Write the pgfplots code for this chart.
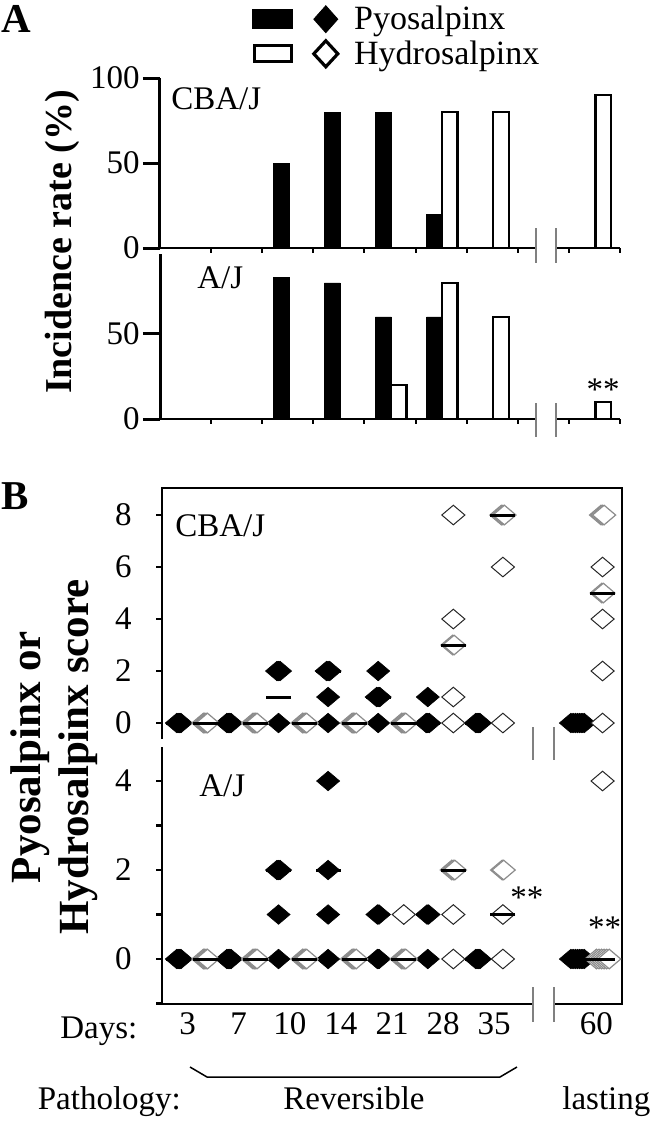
\documentclass[border=0pt]{standalone}
\usepackage{fontspec}
\setmainfont{Liberation Serif}
\usepackage{pgfplots}
\pgfplotsset{compat=1.18}
\newcommand{\fs}{\fontsize{16.5}{18}\selectfont}

\pgfplotsset{
  every axis/.append style={scale only axis, width=230pt, xmin=-0.5, xmax=8.5, clip=false,
    tick align=outside, /pgf/number format/assume math mode=true,
    tick label style={font=\fs}},
  panelA/.style={axis x line*=bottom, axis y line*=left, x axis line style={draw=none},
    y axis line style={line width=1.5pt}, ytick style={line width=1.5pt, black},
    major tick length=8.5pt, xtick=\empty, yticklabel style={inner sep=1.5pt},
    ybar, bar width=0.31, bar shift=0pt},
  panelB/.style={axis line style={draw=none}, xtick=\empty, ytick pos=left,
    major tick length=3pt, ytick style={line width=1.2pt, black},
    yticklabel style={inner sep=0pt, xshift=-12pt}},
  pyo/.style={only marks, mark=diamond*, mark size=4.9pt,
    mark options={xscale=1.57, fill=black, draw=black, line width=0.3pt}},
  hyg/.style={only marks, mark=diamond*, mark size=4.9pt,
    mark options={xscale=1.57, fill=white, draw=black!45, line width=0.6pt}},
  hys/.style={only marks, mark=diamond*, mark size=4.9pt,
    mark options={xscale=1.57, fill=white, draw=black!85, line width=0.5pt}},
  med/.style={only marks, mark=-, mark size=6.25pt, mark options={line width=1.5pt, draw=black}},
}

\begin{document}
\begin{tikzpicture}
\useasboundingbox (0,0) rectangle (325pt,-560.5pt);

% ---------------- Panel A, CBA/J ----------------
\begin{axis}[panelA, at={(80pt,-124pt)}, anchor=south west, height=85pt,
  ymin=0, ymax=100, ytick={0,50,100},
  legend style={draw=none, fill=none, at={(0.2,1.45)}, anchor=north west,
    font=\fontsize{17}{19}\selectfont,
    legend cell align=left, row sep=0pt, inner sep=0pt, nodes={inner sep=2pt}}]
\addplot[forget plot, fill=black, draw=black] coordinates {(1.87,50) (2.87,80) (3.87,80) (4.87,20)};
\addplot[forget plot, fill=white, draw=black, line width=1.3pt] coordinates {(5.17,80) (6.17,80) (8.17,90)};
\addlegendimage{legend image code/.code={
  \fill[black] (0pt,-4.75pt) rectangle (20pt,4.75pt);
  \fill[black] (30.5pt,0pt) -- (36.5pt,6.75pt) -- (42.5pt,0pt) -- (36.5pt,-6.75pt) -- cycle;
  \path (48.5pt,0pt);}}
\addlegendentry{Pyosalpinx}
\addlegendimage{legend image code/.code={
  \draw[line width=1.5pt] (0.75pt,-4pt) rectangle (19.25pt,4pt);
  \draw[line width=1.6pt] (30.5pt,0pt) -- (36.5pt,6.5pt) -- (42.5pt,0pt) -- (36.5pt,-6.5pt) -- cycle;
  \path (48.5pt,0pt);}}
\addlegendentry{Hydrosalpinx}
\draw[line width=1.2pt] (axis cs:-0.5,0) -- (axis cs:6.858,0);
\draw[line width=1.2pt] (axis cs:7.25,0) -- (axis cs:8.5,0);
\pgfplotsinvokeforeach{0.5,1.5,2.5,3.5,4.5,5.5,6.5,7.5,8.5}{\draw[line width=1pt] (axis cs:#1,0) -- ++(0pt,-2.5pt);}
\draw[black!50, line width=0.9pt] (axis cs:6.858,0) ++(0pt,10pt) -- ++(0pt,-17.5pt);
\draw[black!50, line width=0.9pt] (axis cs:7.25,0) ++(0pt,10pt) -- ++(0pt,-17.5pt);
\node[font=\fs, anchor=west, inner sep=0pt] at (axis cs:-0.285,88) {CBA/J};
\end{axis}

% ---------------- Panel A, A/J ----------------
\begin{axis}[panelA, at={(80pt,-209.5pt)}, anchor=south west, height=82.5pt,
  ymin=0, ymax=97, ytick={0,50}]
\addplot[fill=black, draw=black] coordinates {(1.87,83) (2.87,80) (3.87,60) (4.87,60)};
\addplot[fill=white, draw=black, line width=1.3pt] coordinates {(4.17,20) (5.17,80) (6.17,60) (8.17,10)};
\draw[line width=1.2pt] (axis cs:-0.5,0) -- (axis cs:6.858,0);
\draw[line width=1.2pt] (axis cs:7.25,0) -- (axis cs:8.5,0);
\pgfplotsinvokeforeach{0.5,1.5,2.5,3.5,4.5,5.5,6.5,7.5,8.5}{\draw[line width=1pt] (axis cs:#1,0) -- ++(0pt,-2.5pt);}
\draw[black!50, line width=0.9pt] (axis cs:6.858,0) ++(0pt,8pt) -- ++(0pt,-17pt);
\draw[black!50, line width=0.9pt] (axis cs:7.25,0) ++(0pt,8pt) -- ++(0pt,-17pt);
\node[font=\fs, anchor=west, inner sep=0pt] at (axis cs:0.224,83) {A/J};
\node[font=\fs, yshift=-2.6pt] at (axis cs:8.17,20) {**};
\end{axis}

% ---------------- Panel B, CBA/J ----------------
\begin{axis}[panelB, at={(81pt,-369.5pt)}, anchor=south west, height=125.5pt,
  ymin=-0.615, ymax=9.04, ytick={0,2,4,6,8}]
\draw[line width=1.3pt] (rel axis cs:0,0) -- (rel axis cs:0,1) -- (rel axis cs:1,1) -- (rel axis cs:1,0) -- ++(0pt,-4.5pt);
\addplot[pyo] table {
x y
-0.21 0
-0.183 0
-0.157 0
-0.13 0
0.77 0
0.797 0
0.823 0
0.85 0
1.75 2
1.78 2
1.81 2
1.78 0
2.72 2
2.75 2
2.78 2
2.75 1
2.75 0
3.73 2
3.70 1
3.73 1
3.76 1
3.73 0
4.70 1
4.67 0
4.70 0
4.73 0
5.64 0
5.667 0
5.693 0
5.72 0
7.50 0
7.543 0
7.587 0
7.63 0
7.673 0
7.717 0
7.76 0
};
\addplot[hyg] table {
x y
0.31 0
0.337 0
0.363 0
0.39 0
1.28 0
1.307 0
1.333 0
1.36 0
2.25 0
2.277 0
2.303 0
2.33 0
3.22 0
3.247 0
3.273 0
3.30 0
4.19 0
4.217 0
4.243 0
4.27 0
5.185 3
5.215 3
6.14 8
6.17 8
6.20 8
8.09 8
8.12 8
8.15 8
8.105 5
8.135 5
};
\addplot[hys] table {
x y
5.20 8
5.20 4
5.20 1
5.20 0
6.17 6
6.17 0
8.12 6
8.12 4
8.12 2
8.12 0
};
\addplot[med] table {
x y
-0.17 0
0.81 0
1.78 1
2.75 2
3.73 1
4.70 0
5.68 0
7.63 0
0.35 0
1.32 0
2.29 0
3.26 0
4.23 0
5.20 3
6.17 8
8.12 5
};
\draw[black!50, line width=0.9pt] (axis cs:6.76,-0.615) ++(0pt,6pt) -- ++(0pt,-16.5pt);
\draw[black!50, line width=0.9pt] (axis cs:7.17,-0.615) ++(0pt,6pt) -- ++(0pt,-16.5pt);
\node[font=\fs, anchor=west, inner sep=0pt] at (axis cs:-0.246,7.6) {CBA/J};
\end{axis}

% ---------------- Panel B, A/J ----------------
\begin{axis}[panelB, at={(81pt,-502pt)}, anchor=south west, height=128.5pt,
  ymin=-1.011, ymax=4.764, ytick={-1,0,1,2,3,4}, yticklabels={,0,,2,,4},
  xtick={0,1,2,3,4,5,6,8}, xticklabels={3,7,10,14,21,28,35,60},
  x tick style={draw=none}, xticklabel style={anchor=base, yshift=-12pt}]
\draw[line width=1.3pt] (rel axis cs:0,1) -- (rel axis cs:0,0) -- (axis cs:6.76,-1.011);
\draw[line width=1.3pt] (axis cs:7.17,-1.011) -- (rel axis cs:1,0) -- (rel axis cs:1,1);
\draw[black!50, line width=0.9pt] (axis cs:6.76,-1.011) ++(0pt,8.5pt) -- ++(0pt,-17.5pt);
\draw[black!50, line width=0.9pt] (axis cs:7.17,-1.011) ++(0pt,8.5pt) -- ++(0pt,-17.5pt);
\addplot[pyo] table {
x y
-0.21 0
-0.183 0
-0.157 0
-0.13 0
0.77 0
0.797 0
0.823 0
0.85 0
1.75 2
1.78 2
1.81 2
1.78 1
1.78 0
2.75 4
2.75 2
2.75 1
2.75 0
3.715 1
3.745 1
3.715 0
3.745 0
4.685 1
4.715 1
4.70 0
5.64 0
5.667 0
5.693 0
5.72 0
7.50 0
7.543 0
7.587 0
7.63 0
7.673 0
7.717 0
7.76 0
};
\addplot[hyg] table {
x y
0.31 0
0.337 0
0.363 0
0.39 0
1.28 0
1.307 0
1.333 0
1.36 0
2.25 0
2.277 0
2.303 0
2.33 0
3.22 0
3.247 0
3.273 0
3.30 0
4.19 0
4.217 0
4.243 0
4.27 0
5.17 2
5.20 2
5.23 2
6.155 2
6.185 2
8.00 0
8.05 0
8.10 0
8.15 0
8.20 0
8.25 0
};
\addplot[hys] table {
x y
4.23 1
5.20 1
5.20 0
6.17 1
6.17 0
8.12 4
};
\addplot[med] table {
x y
-0.17 0
0.81 0
1.78 2
2.75 2
5.68 0
7.63 0
0.35 0
1.32 0
2.29 0
3.26 0
4.23 0
5.20 2
6.17 1
8.12 0
};
\node[font=\fs, anchor=west, inner sep=0pt] at (axis cs:0.224,3.9) {A/J};
\node[font=\fs, yshift=-2.6pt] at (axis cs:6.64,1.5) {**};
\node[font=\fs, yshift=-2.6pt] at (axis cs:8.16,0.83) {**};
\end{axis}

% ---------------- labels ----------------
\node[font=\fontsize{20.5}{22}\selectfont\bfseries] at (8pt,-9.5pt) {A};
\node[font=\fontsize{20.5}{22}\selectfont\bfseries] at (7.5pt,-248pt) {B};
\node[font=\fontsize{19}{21}\selectfont\bfseries, rotate=90] at (31pt,-121pt) {Incidence rate (\%)};
\node[font=\fontsize{21.5}{24}\selectfont\bfseries, rotate=90, align=center] at (27pt,-378.5pt) {Pyosalpinx or\\Hydrosalpinx score};
\node[font=\fs, anchor=base west, inner sep=0pt] at (30pt,-519pt) {Days:};
\draw[line width=0.75pt] (95pt,-533.5pt) -- (103.5pt,-538.5pt) -- (250pt,-538.5pt) -- (258.5pt,-533.5pt);
\node[font=\fs, anchor=base west, inner sep=0pt] at (18.75pt,-554.5pt) {Pathology:};
\node[font=\fs, anchor=base, inner sep=0pt] at (177pt,-554.5pt) {Reversible};
\node[font=\fs, anchor=base west, inner sep=0pt] at (281pt,-554.5pt) {lasting};
\end{tikzpicture}
\end{document}
